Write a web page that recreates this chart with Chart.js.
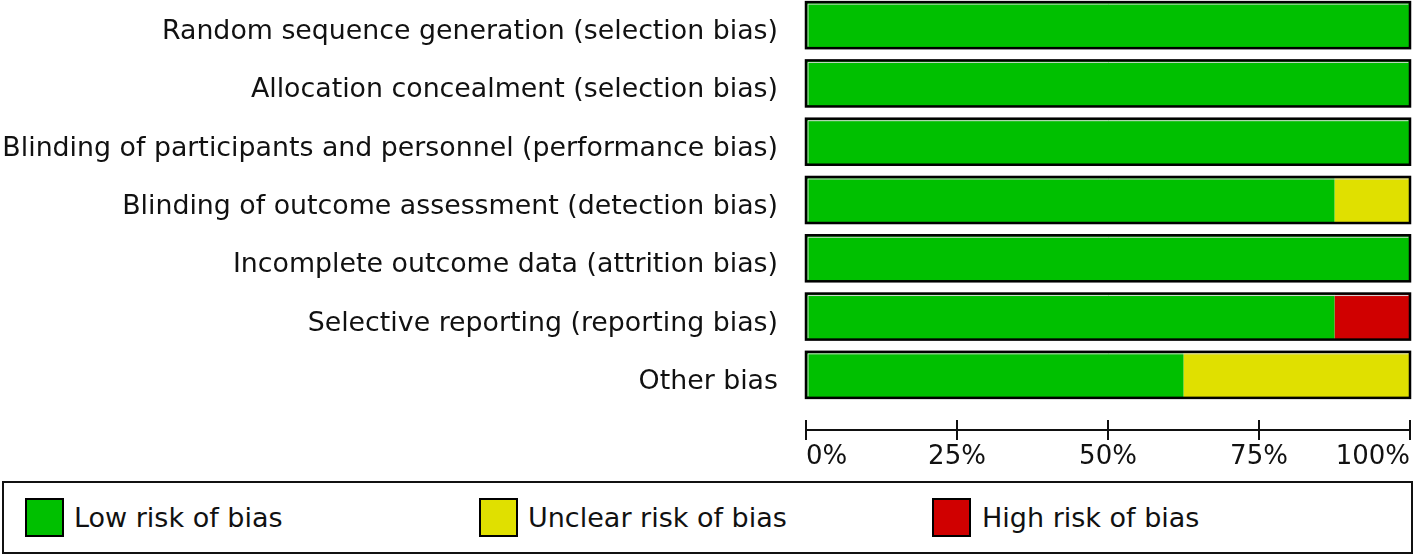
<!DOCTYPE html>
<html>
<head>
<meta charset="utf-8">
<script src="https://cdn.jsdelivr.net/npm/chart.js@4.4.1/dist/chart.umd.min.js"></script>
<style>
  html, body { margin: 0; padding: 0; background: #fff; overflow: hidden; width: 1416px; height: 558px; }
  #wrap { position: absolute; left: 0; top: -4px; width: 1416px; height: 478px; }
  #legend { position: absolute; left: 2px; top: 481px; width: 1411px; height: 73px; box-sizing: border-box; border: 2px solid #111; }
  .sw { position: absolute; width: 39px; height: 39px; box-sizing: border-box; border: 2px solid #000; top: 15px; }
  .lt { position: absolute; top: 15px; height: 39px; line-height: 39px; font-family: "DejaVu Sans", sans-serif; font-size: 27px; color: #111; white-space: nowrap; }
</style>
</head>
<body>
<div id="wrap"><canvas id="c"></canvas></div>
<div id="legend"></div>
<script>
const categories = [
  "Random sequence generation (selection bias)",
  "Allocation concealment (selection bias)",
  "Blinding of participants and personnel (performance bias)",
  "Blinding of outcome assessment (detection bias)",
  "Incomplete outcome data (attrition bias)",
  "Selective reporting (reporting bias)",
  "Other bias"
];
const lowRisk     = [100, 100, 100, 87.5, 100, 87.5, 62.5];
const unclearRisk = [0, 0, 0, 12.5, 0, 0, 37.5];
const highRisk    = [0, 0, 0, 0, 0, 12.5, 0];
const seriesNames = ["Low risk of bias", "Unclear risk of bias", "High risk of bias"];
const seriesColors = ["#00c000", "#e0e000", "#d00000"];
const tickValues = [0, 25, 50, 75, 100];

const FONT = '"DejaVu Sans", sans-serif';

const outlinePlugin = {
  id: 'outline',
  afterDatasetsDraw(chart) {
    const ctx = chart.ctx;
    const xs = chart.scales.x;
    const meta = chart.getDatasetMeta(0);
    const x0 = xs.getPixelForValue(0), x1 = xs.getPixelForValue(100);
    ctx.save();
    meta.data.forEach(bar => {
      const p = bar.getProps(['y', 'height'], true);
      const top = p.y - p.height / 2, h = p.height;
      ctx.strokeStyle = '#d8d8d8';
      ctx.lineWidth = 1;
      ctx.beginPath();
      ctx.moveTo(x0 + 2, top + h - 1.5); ctx.lineTo(x0 + 2, top + 2); ctx.lineTo(x1 - 1.5, top + 2);
      ctx.stroke();
      ctx.strokeStyle = '#000';
      ctx.lineWidth = 2.5;
      ctx.strokeRect(x0, top, x1 - x0, h);
    });
    // x axis line with ticks
    const ay = chart.chartArea.bottom + 26;
    ctx.strokeStyle = '#111';
    ctx.lineWidth = 2;
    ctx.beginPath();
    ctx.moveTo(x0 - 1, ay); ctx.lineTo(x1 + 1, ay);
    tickValues.forEach(v => {
      const x = xs.getPixelForValue(v);
      ctx.moveTo(x, ay - 10); ctx.lineTo(x, ay + 10);
    });
    ctx.stroke();
    ctx.restore();
  }
};

const data = {
  labels: categories,
  datasets: [lowRisk, unclearRisk, highRisk].map((vals, i) => ({
    label: seriesNames[i],
    data: vals,
    backgroundColor: seriesColors[i],
    borderWidth: 0,
    categoryPercentage: 1,
    barPercentage: 0.79
  }))
};

new Chart(document.getElementById('c'), {
  type: 'bar',
  data,
  options: {
    indexAxis: 'y',
    responsive: true,
    maintainAspectRatio: false,
    animation: false,
    events: [],
    layout: { padding: { left: 0, right: 6, top: 0, bottom: 0 } },
    plugins: { legend: { display: false }, tooltip: { enabled: false } },
    scales: {
      x: {
        stacked: true,
        min: 0, max: 100,
        afterBuildTicks(s) { s.ticks = tickValues.map(v => ({ value: v })); },
        afterFit(s) { s.height = 70; s.paddingLeft = 0; s.paddingRight = 0; },
        grid: { display: false, drawTicks: false },
        border: { display: false },
        ticks: {
          align: 'inner',
          padding: 38,
          color: '#111',
          font: { family: FONT, size: 26 },
          callback: v => v + '%'
        }
      },
      y: {
        stacked: true,
        afterFit(s) { s.width = 806; s.paddingTop = 0; s.paddingBottom = 0; },
        grid: { display: false, drawTicks: false },
        border: { display: false },
        ticks: {
          autoSkip: false,
          padding: 28,
          labelOffset: 7,
          color: '#111',
          font: { family: FONT, size: 26.8 }
        }
      }
    }
  },
  plugins: [outlinePlugin]
});

// legend built from the series arrays
const legend = document.getElementById('legend');
const swLeft = [21, 475, 928];
const txLeft = [70, 524, 978];
seriesNames.forEach((name, i) => {
  const sw = document.createElement('div');
  sw.className = 'sw';
  sw.style.left = swLeft[i] + 'px';
  sw.style.background = seriesColors[i];
  legend.appendChild(sw);
  const t = document.createElement('div');
  t.className = 'lt';
  t.style.left = txLeft[i] + 'px';
  t.textContent = name;
  legend.appendChild(t);
});
</script>
</body>
</html>
